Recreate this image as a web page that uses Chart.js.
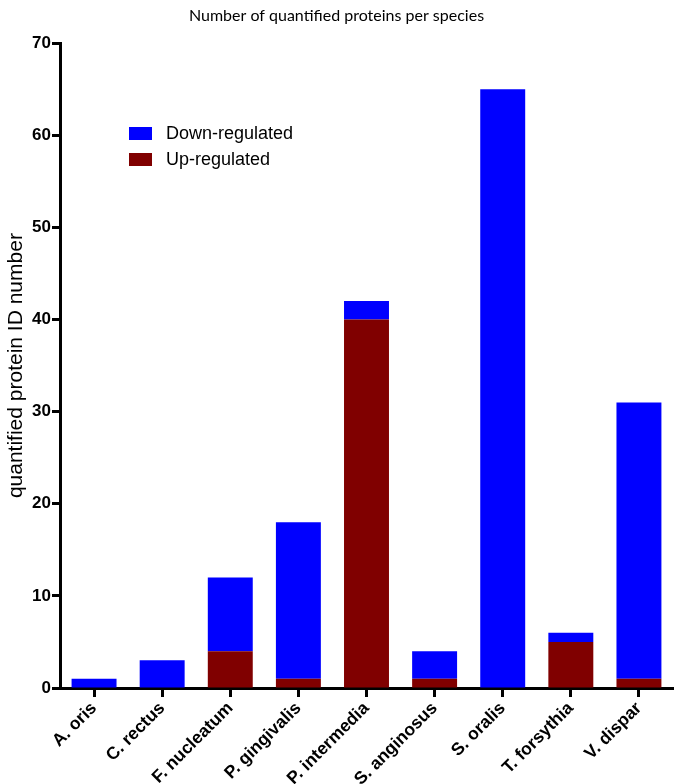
<!DOCTYPE html>
<html>
<head>
<meta charset="utf-8">
<title>Number of quantified proteins per species</title>
<script src="https://cdn.jsdelivr.net/npm/chart.js@4/dist/chart.umd.min.js"></script>
<style>
  html, body { margin: 0; padding: 0; background: #fff; }
  #wrap { position: relative; width: 675px; height: 784px; }
</style>
</head>
<body>
<div id="wrap"><canvas id="chart" width="675" height="784"></canvas></div>
<script>
// ----- DATA -----
const species = ['A. oris', 'C. rectus', 'F. nucleatum', 'P. gingivalis', 'P. intermedia',
  'S. anginosus', 'S. oralis', 'T. forsythia', 'V. dispar'];
const upRegulated = [0, 0, 4, 1, 40, 1, 0, 5, 1];
const downRegulated = [1, 3, 8, 17, 2, 3, 65, 1, 30];
const yTicks = [0, 10, 20, 30, 40, 50, 60, 70];

const AXIS_FONT = 'Liberation Sans, Arial, sans-serif';

// legend drawn inside the plot, top-left (Down first, like the figure)
const insideLegend = {
  id: 'insideLegend',
  afterDraw(chart) {
    const ctx = chart.ctx;
    const items = chart.data.datasets.slice().reverse();
    ctx.save();
    ctx.font = '18px ' + AXIS_FONT;
    ctx.textBaseline = 'middle';
    items.forEach((ds, i) => {
      const y = 127 + i * 26;
      ctx.fillStyle = ds.backgroundColor;
      ctx.fillRect(129, y, 23, 13);
      ctx.fillStyle = '#000';
      ctx.fillText(ds.label, 166, y + 7);
    });
    ctx.restore();
  }
};

new Chart(document.getElementById('chart').getContext('2d'), {
  type: 'bar',
  data: {
    labels: species,
    datasets: [
      { label: 'Up-regulated', data: upRegulated, backgroundColor: '#800000' },
      { label: 'Down-regulated', data: downRegulated, backgroundColor: '#0000ff' }
    ]
  },
  options: {
    responsive: false,
    animation: false,
    layout: { padding: { left: 0, right: 2, top: 0, bottom: 0 } },
    datasets: { bar: { barPercentage: 0.66, categoryPercentage: 1 } },
    scales: {
      x: {
        stacked: true,
        offset: true,
        grid: { offset: false, drawOnChartArea: false, drawTicks: true, tickLength: 9, tickWidth: 3, color: '#000' },
        border: { display: true, width: 3, color: '#000' },
        ticks: {
          color: '#000', minRotation: 45, maxRotation: 45, padding: 1,
          font: { family: AXIS_FONT, size: 17.5, weight: 'bold' }
        },
        afterFit(scale) { scale.height = 96; }
      },
      y: {
        stacked: true,
        min: 0, max: 70,
        afterBuildTicks(scale) { scale.ticks = yTicks.map(v => ({ value: v })); },
        grid: { drawOnChartArea: false, drawTicks: true, tickLength: 8, tickWidth: 3, color: '#000' },
        border: { display: true, width: 3, color: '#000' },
        ticks: {
          color: '#000', padding: 1,
          font: { family: AXIS_FONT, size: 17, weight: 'bold' }
        },
        title: {
          display: true, text: 'quantified protein ID number', color: '#000',
          font: { family: AXIS_FONT, size: 21 }, padding: { top: 4, bottom: 0 }
        },
        afterFit(scale) { scale.width = 60; }
      }
    },
    plugins: {
      legend: { display: false },
      tooltip: { enabled: false },
      title: {
        display: true,
        text: 'Number of quantified proteins per species',
        color: '#000',
        font: { family: 'Lato, sans-serif', size: 16, weight: 'normal', lineHeight: 1.2 },
        padding: { top: 6, bottom: 18 }
      }
    }
  },
  plugins: [insideLegend]
});
</script>
</body>
</html>
